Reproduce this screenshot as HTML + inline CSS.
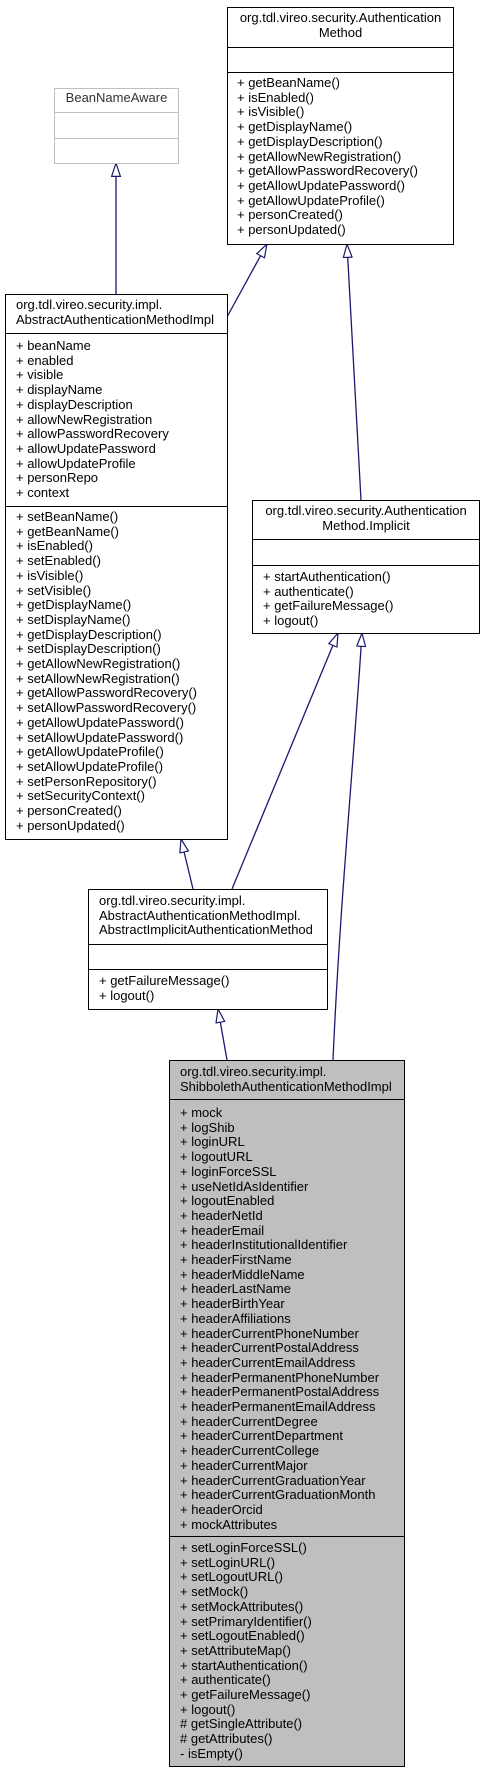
<!DOCTYPE html>
<html><head><meta charset="utf-8"><style>
html,body{margin:0;padding:0;background:#fff;}
body{width:484px;height:1773px;position:relative;overflow:hidden;font-family:"Liberation Sans",Arial,sans-serif;font-size:13px;color:#000;}
.b{position:absolute;border:1.3px solid #000;box-sizing:border-box;background:#fff;}
.h{position:absolute;left:0;right:0;height:0;border-top:1.3px solid #000;}
.t{position:absolute;line-height:14.7px;white-space:pre;}
.c{left:0;right:0;text-align:center;}
svg{position:absolute;left:0;top:0;}
</style></head><body>
<svg width="484" height="1773">
<defs><marker id="a" markerUnits="userSpaceOnUse" markerWidth="16" markerHeight="12" refX="14" refY="5" orient="auto" viewBox="0 0 16 12"><path d="M0.6,0.6 L14,5 L0.6,9.4 z" fill="#fff" stroke="#191970" stroke-width="1.2"/></marker></defs>
<g stroke="#191970" stroke-width="1.3" fill="none" marker-end="url(#a)">
<path d="M116,294 L116,163"/>
<path d="M227,317 L267,244"/>
<path d="M361,500 L347,244"/>
<path d="M193,889 L181,839"/>
<path d="M232,889 L338,633"/>
<path d="M227,1060 L218,1009"/>
<path d="M333,1060 C340,900 354,760 362,633"/>
</g>
</svg>

<!-- AuthenticationMethod -->
<div class="b" style="left:227px;top:7px;width:227px;height:238px;">
<div class="t c" style="top:3px;">org.tdl.vireo.security.Authentication
Method</div>
<div class="h" style="top:39px;"></div>
<div class="h" style="top:64px;"></div>
<div class="t" style="left:9px;top:68px;">+ getBeanName()
+ isEnabled()
+ isVisible()
+ getDisplayName()
+ getDisplayDescription()
+ getAllowNewRegistration()
+ getAllowPasswordRecovery()
+ getAllowUpdatePassword()
+ getAllowUpdateProfile()
+ personCreated()
+ personUpdated()</div>
</div>

<!-- BeanNameAware -->
<div class="b" style="left:54px;top:88px;width:125px;height:76px;border-color:#bfbfbf;">
<div class="t c" style="top:2px;color:#333;">BeanNameAware</div>
<div class="h" style="top:23px;border-color:#bfbfbf;"></div>
<div class="h" style="top:49px;border-color:#bfbfbf;"></div>
</div>

<!-- AbstractAuthenticationMethodImpl -->
<div class="b" style="left:5px;top:294px;width:223px;height:546px;">
<div class="t" style="left:10px;top:3px;">org.tdl.vireo.security.impl.
AbstractAuthenticationMethodImpl</div>
<div class="h" style="top:38px;"></div>
<div class="t" style="left:10px;top:44px;">+ beanName
+ enabled
+ visible
+ displayName
+ displayDescription
+ allowNewRegistration
+ allowPasswordRecovery
+ allowUpdatePassword
+ allowUpdateProfile
+ personRepo
+ context</div>
<div class="h" style="top:211px;"></div>
<div class="t" style="left:10px;top:215px;">+ setBeanName()
+ getBeanName()
+ isEnabled()
+ setEnabled()
+ isVisible()
+ setVisible()
+ getDisplayName()
+ setDisplayName()
+ getDisplayDescription()
+ setDisplayDescription()
+ getAllowNewRegistration()
+ setAllowNewRegistration()
+ getAllowPasswordRecovery()
+ setAllowPasswordRecovery()
+ getAllowUpdatePassword()
+ setAllowUpdatePassword()
+ getAllowUpdateProfile()
+ setAllowUpdateProfile()
+ setPersonRepository()
+ setSecurityContext()
+ personCreated()
+ personUpdated()</div>
</div>

<!-- AuthenticationMethod.Implicit -->
<div class="b" style="left:252px;top:500px;width:228px;height:134px;">
<div class="t c" style="top:3px;">org.tdl.vireo.security.Authentication
Method.Implicit</div>
<div class="h" style="top:38px;"></div>
<div class="h" style="top:64px;"></div>
<div class="t" style="left:10px;top:69px;">+ startAuthentication()
+ authenticate()
+ getFailureMessage()
+ logout()</div>
</div>

<!-- AbstractImplicitAuthenticationMethod -->
<div class="b" style="left:88px;top:889px;width:240px;height:121px;">
<div class="t" style="left:10px;top:4px;">org.tdl.vireo.security.impl.
AbstractAuthenticationMethodImpl.
AbstractImplicitAuthenticationMethod</div>
<div class="h" style="top:54px;"></div>
<div class="h" style="top:79px;"></div>
<div class="t" style="left:10px;top:84px;">+ getFailureMessage()
+ logout()</div>
</div>

<!-- ShibbolethAuthenticationMethodImpl -->
<div class="b" style="left:169px;top:1060px;width:236px;height:707px;background:#bfbfbf;">
<div class="t" style="left:10px;top:4px;">org.tdl.vireo.security.impl.
ShibbolethAuthenticationMethodImpl</div>
<div class="h" style="top:38px;"></div>
<div class="t" style="left:10px;top:45px;">+ mock
+ logShib
+ loginURL
+ logoutURL
+ loginForceSSL
+ useNetIdAsIdentifier
+ logoutEnabled
+ headerNetId
+ headerEmail
+ headerInstitutionalIdentifier
+ headerFirstName
+ headerMiddleName
+ headerLastName
+ headerBirthYear
+ headerAffiliations
+ headerCurrentPhoneNumber
+ headerCurrentPostalAddress
+ headerCurrentEmailAddress
+ headerPermanentPhoneNumber
+ headerPermanentPostalAddress
+ headerPermanentEmailAddress
+ headerCurrentDegree
+ headerCurrentDepartment
+ headerCurrentCollege
+ headerCurrentMajor
+ headerCurrentGraduationYear
+ headerCurrentGraduationMonth
+ headerOrcid
+ mockAttributes</div>
<div class="h" style="top:475px;"></div>
<div class="t" style="left:10px;top:480px;">+ setLoginForceSSL()
+ setLoginURL()
+ setLogoutURL()
+ setMock()
+ setMockAttributes()
+ setPrimaryIdentifier()
+ setLogoutEnabled()
+ setAttributeMap()
+ startAuthentication()
+ authenticate()
+ getFailureMessage()
+ logout()
# getSingleAttribute()
# getAttributes()
- isEmpty()</div>
</div>
</body></html>
